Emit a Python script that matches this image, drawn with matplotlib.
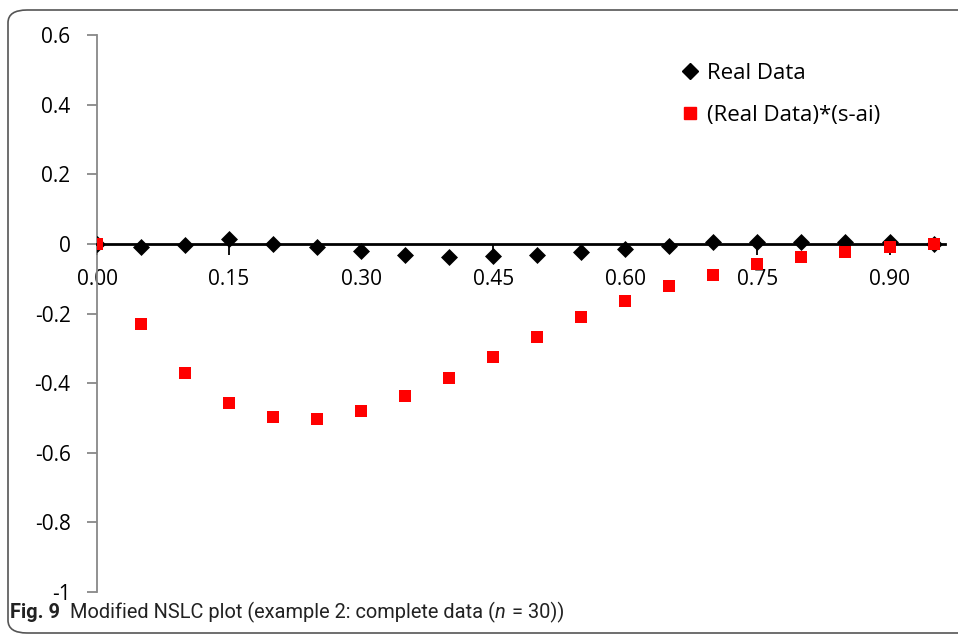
import matplotlib
matplotlib.use("Agg")
import matplotlib.pyplot as plt
from matplotlib.patches import FancyBboxPatch
from matplotlib.lines import Line2D

x_vals = [0.00, 0.05, 0.10, 0.15, 0.20, 0.25, 0.30, 0.35, 0.40, 0.45,
          0.50, 0.55, 0.60, 0.65, 0.70, 0.75, 0.80, 0.85, 0.90, 0.95]
real_data = [0.000, -0.008, -0.003, 0.013, -0.001, -0.008, -0.020, -0.032, -0.038, -0.036,
             -0.032, -0.024, -0.015, -0.006, 0.006, 0.006, 0.006, 0.006, 0.004, 0.000]
weighted = [0.000, -0.230, -0.371, -0.456, -0.497, -0.502, -0.481, -0.438, -0.384, -0.324,
            -0.267, -0.211, -0.163, -0.122, -0.089, -0.058, -0.038, -0.022, -0.008, 0.000]
x_ticks = [0.00, 0.15, 0.30, 0.45, 0.60, 0.75, 0.90]
x_tick_labels = ["0.00", "0.15", "0.30", "0.45", "0.60", "0.75", "0.90"]
y_ticks = [-1, -0.8, -0.6, -0.4, -0.2, 0, 0.2, 0.4, 0.6]
y_tick_labels = ["-1", "-0.8", "-0.6", "-0.4", "-0.2", "0", "0.2", "0.4", "0.6"]
caption_parts = [("Fig. 9", "bold", "normal"), ("  Modified NSLC plot (example 2: complete data (", "normal", "normal"),
                 ("n", "normal", "italic"), (" = 30))", "normal", "normal")]

W, H = 958, 637
fig = plt.figure(figsize=(W / 100, H / 100), dpi=100)
font = "Open Sans"

ax = fig.add_axes([97 / W, 1 - 592 / H, (945 - 97) / W, (592 - 35) / H])
ax.set_xlim(0, 0.963)
ax.set_ylim(-1, 0.6)

ax.scatter(x_vals, real_data, marker="D", s=75, color="black", zorder=3, linewidths=0)
ax.scatter(x_vals, weighted, marker="s", s=85, color="#ff0000", zorder=4, linewidths=0)

for s in ["top", "right"]:
    ax.spines[s].set_visible(False)
ax.spines["left"].set_color("#888888")
ax.spines["left"].set_linewidth(1.3)
ax.spines["bottom"].set_position(("data", 0))
ax.spines["bottom"].set_color("black")
ax.spines["bottom"].set_linewidth(2)

ax.set_yticks(y_ticks)
ax.set_yticklabels(y_tick_labels, fontsize=15, family=font)
ax.tick_params(axis="y", direction="out", length=7, color="#888888", width=1.3, pad=12)
ax.set_xticks(x_ticks)
ax.set_xticklabels(x_tick_labels, fontsize=15, family=font)
ax.tick_params(axis="x", direction="out", length=8, color="black", width=1.3, pad=10)

handles = [
    Line2D([], [], marker="D", linestyle="none", color="black", markersize=8),
    Line2D([], [], marker="s", linestyle="none", color="#ff0000", markersize=8),
]
ax.legend(handles, ["Real Data", "(Real Data)*(s-ai)"], loc="upper left",
          bbox_to_anchor=((668 - 97) / (945 - 97), 1 - (54 - 35) / (592 - 35)),
          frameon=False, prop={"family": font, "size": 16}, handletextpad=0.15,
          labelspacing=0.95, handlelength=1.2, borderaxespad=0)

box = FancyBboxPatch((8 / W, 4 / H), (W + 30) / W, (627 - 4) / H,
                     boxstyle="round,pad=0,rounding_size=0.02",
                     transform=fig.transFigure, facecolor="none",
                     edgecolor="#555555", linewidth=1.2, clip_on=False)
fig.patches.append(box)

# caption, laid out piece by piece
cap_y = 1 - 612 / H
renderer = fig.canvas.get_renderer()
xpos = 10
cap_size = 14.4
cap_font = ["Roboto", "DejaVu Sans"]
for txt, weight, style in caption_parts:
    t = fig.text(xpos / W, cap_y, txt, fontsize=cap_size, fontweight=weight, fontstyle=style,
                 family=cap_font, va="center", color="#222222")
    bb = t.get_window_extent(renderer)
    xpos += bb.width + (1 if style == "italic" else 0)

fig.savefig("out.png", dpi=100)
